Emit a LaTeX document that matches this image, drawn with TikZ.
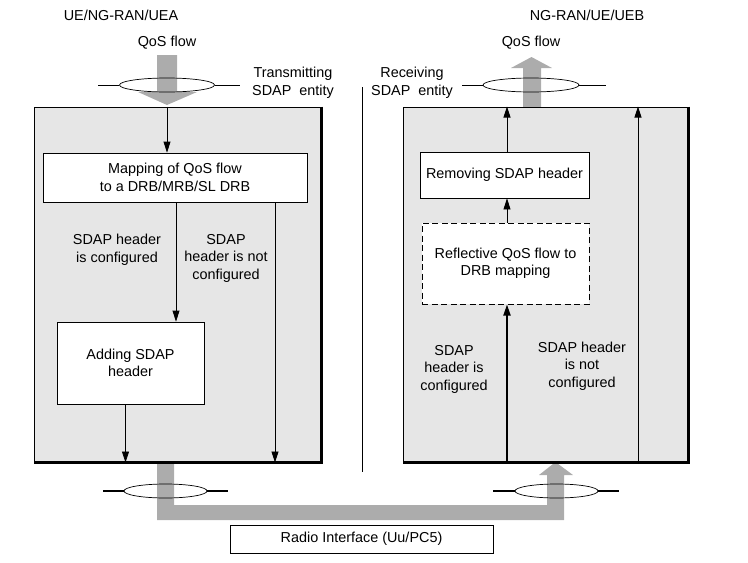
\documentclass[tikz,border=0pt]{standalone}
\usepackage{fontspec}
\setmainfont{Liberation Sans}
\usepackage{tikz}
\usetikzlibrary{arrows.meta, positioning, shapes.geometric}
\definecolor{entitygray}{RGB}{230,230,230}
\definecolor{flowgray}{RGB}{172,172,172}
\tikzset{
  entity/.style={draw, line width=1pt, fill=entitygray, inner sep=0pt},
  proc/.style={draw, line width=0.8pt, fill=white, align=center, inner sep=0pt},
  ring/.style={draw, ellipse, line width=0.7pt, minimum width=95pt, minimum height=14pt, inner sep=0pt},
  lbl/.style={align=center, inner sep=0pt},
  flow/.style={fill=flowgray, draw=none}
}
\begin{document}
\begin{tikzpicture}[x=1pt, y=-1pt, >={Triangle[width=7pt,length=11pt]}, font=\fontsize{14.4}{17.5}\selectfont]
    \useasboundingbox (0,0) rectangle (748,563);

    % gray QoS flows
    \fill[flow] (157,55) -- (177,55) -- (177,92) -- (197,92) -- (167,105) -- (138,92) -- (157,92) -- cycle;
    \fill[flow] (523,107) -- (523,68) -- (511,68) -- (531.5,57) -- (552,68) -- (541,68) -- (541,107) -- cycle;
    \fill[flow] (157,462) -- (157,520) -- (564,520) -- (564,475) -- (573,475) -- (555.5,462)
        -- (539,475) -- (547,475) -- (547,505) -- (174,505) -- (174,462) -- cycle;

    \node[entity, minimum width=287pt, minimum height=355pt] (tx) at (177.5,284.5) {};
    \node[entity, minimum width=285pt, minimum height=355pt] (rx) at (545.5,284.5) {};
    \draw[line width=2.5pt] (tx.north east) -- (tx.south east) -- (tx.south west);
    \draw[line width=2.5pt] (rx.north east) -- (rx.south east) -- (rx.south west);

    \node[lbl] (uea) at (121,15) {UE/NG-RAN/UEA};
    \node[lbl] (ueb) at (587,15) {NG-RAN/UE/UEB};
    \node[lbl] (qostx) at (167,43) {QoS flow};
    \node[lbl] (qosrx) at (531,43) {QoS flow};
    \node[lbl] (txname) at (293,83) {Transmitting\\SDAP\ \ entity};
    \node[lbl] (rxname) at (412,83) {Receiving\\SDAP\ \ entity};

    \foreach \name/\pos/\wd in {ringtx/{(167,85)}/95pt, ringrx/{(531,85)}/96pt, ringa/{(165.5,491)}/83pt, ringb/{(556.5,491)}/83pt}
        \node[ring, minimum width=\wd] (\name) at \pos {};
    \draw[line width=0.8pt] (ringtx.west) -- ++(-21,0) (ringtx.east) -- ++(25,0);
    \draw[line width=0.8pt] (ringrx.west) -- ++(-21,0) (ringrx.east) -- ++(27,0);
    \draw[line width=1.5pt] (ringa.west) -- ++(-21,0) (ringa.east) -- ++(21,0);
    \draw[line width=1.5pt] (ringb.west) -- ++(-22,0) (ringb.east) -- ++(21,0);

    \draw[line width=0.8pt] (362,87) -- (362,472);

    % transmitting side
    \node[proc, minimum width=264pt, minimum height=49pt] (map) at (175,177.5) {Mapping of QoS flow\\to a DRB/MRB/SL DRB};
    \node[proc, minimum width=147pt, minimum height=82pt] (add) at (130.5,363) {Adding SDAP\\header};
    \coordinate (txin) at (167,0);
    \coordinate (txbyp) at (275,0);
    \draw[->, line width=0.8pt] (tx.north -| txin) -- (map.north -| txin);
    \draw[->, line width=0.8pt] ([xshift=1pt]map.south) -- ([xshift=1pt]map.south |- add.north);
    \draw[->, line width=0.8pt] (map.south -| txbyp) -- (tx.south -| txbyp);
    \draw[->, line width=0.8pt] ([xshift=-5pt]add.south) -- ([xshift=-5pt]add.south |- tx.south);
    \node[lbl] (txcfg) at (117,250) {SDAP header\\is configured};
    \node[lbl] (txnocfg) at (226,258) {SDAP\\header is not\\configured};

    % receiving side
    \node[proc, minimum width=169pt, minimum height=46pt] (rem) at (504.5,175) {Removing SDAP header};
    \node[proc, line width=1pt, dash pattern=on 6pt off 3.5pt, minimum width=167pt, minimum height=81pt] (refl) at (505.5,263.5) {Reflective QoS flow to\\DRB mapping};
    \coordinate (rxup) at (507,0);
    \coordinate (rxbyp) at (638,0);
    \draw[->, line width=0.8pt] (rem.north -| rxup) -- (rx.north -| rxup);
    \draw[->, line width=0.8pt] (refl.north -| rxup) -- (rem.south -| rxup);
    \draw[->, line width=1.8pt] (rx.south -| rxup) -- (refl.south -| rxup);
    \draw[->, line width=0.8pt] (rx.south -| rxbyp) -- (rx.north -| rxbyp);
    \node[lbl] (rxcfg) at (454,369) {SDAP\\header is\\configured};
    \node[lbl] (rxnocfg) at (582,366) {SDAP header\\is not\\configured};

    \node[proc, minimum width=263pt, minimum height=28pt] (radio) at (361.5,539) {Radio Interface (Uu/PC5)};
\end{tikzpicture}
\end{document}
